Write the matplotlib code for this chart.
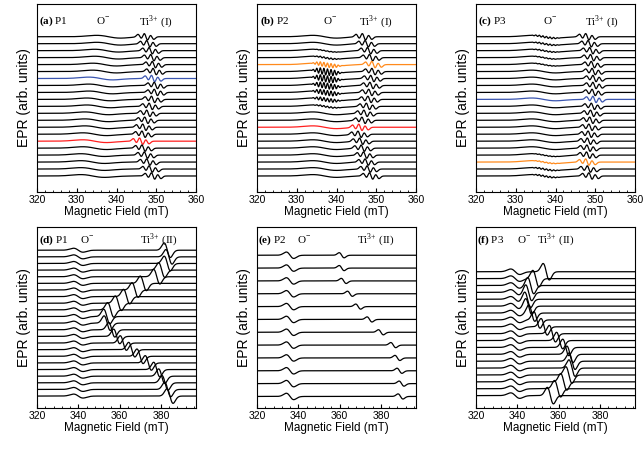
import numpy as np
import matplotlib
matplotlib.use('Agg')
import matplotlib.pyplot as plt
from matplotlib.ticker import MultipleLocator

plt.rcParams['font.family'] = ['Liberation Sans', 'DejaVu Sans']
plt.rcParams['mathtext.fontset'] = 'custom'
plt.rcParams['mathtext.rm'] = 'Liberation Serif'
plt.rcParams['mathtext.bf'] = 'Liberation Serif:bold'

# field ranges (mT)
field_top = (320, 360)
field_bot = (320, 397)

# Ti3+ (I) line centre of every spectrum, top to bottom
a_ti = [347.4, 348.0, 348.6, 349.0, 349.4, 349.6, 349.2, 349.9, 349.9, 349.2, 348.6,
        348.0, 347.5, 347.0, 346.8, 346.2, 346.8, 347.4, 348.0, 348.6, 349.2]
b_ti = [346.9, 347.6, 348.2, 348.7, 349.3, 349.3, 349.0, 348.8, 348.5, 348.3, 347.9,
        347.3, 346.8, 346.0, 345.8, 346.2, 346.6, 347.2, 347.6, 348.1, 348.7]
c_ti = [348.0, 348.6, 349.0, 349.2, 349.4, 349.6, 349.8, 349.8, 349.6, 349.8, 349.4,
        349.2, 349.0, 348.8, 348.6, 348.4, 348.3, 348.2, 348.0, 348.4, 348.8]
# O- line centre in P1 spectra (shifts slightly down the stack)
a_o = [338, 338, 337.5, 337.5, 337, 337, 336, 336, 336, 335.5, 335.5,
       335, 335, 335, 334.5, 334.5, 334.5, 334, 334, 334, 334]
# O- hyperfine wiggle strength in P2 and P3 spectra
b_wiggle = [0, 0, 0.05, 0.1, 0.3, 0.45, 0.45, 0.4, 0.35, 0.25, 0.1,
            0, 0, 0, 0, 0, 0, 0, 0, 0, 0]
c_wiggle = [0.12, 0.1, 0.08, 0.06, 0.05, 0, 0, 0, 0, 0, 0,
            0, 0, 0, 0, 0, 0, 0.05, 0.06, 0.1, 0.1]

# Ti3+ (II) line centre of every spectrum, top to bottom
d_ti = [383.1, 383.9, 383.1, 380.4, 378.0, 371.5, 367.5, 363.4, 359.4, 355.7, 353.8, 354.0,
        356.2, 358.6, 361.8, 365.9, 369.9, 373.9, 378.0, 380.4, 382.0, 383.3, 384.4]
e_ti = [361, 361, 362, 365, 369, 374.5, 380, 386, 388, 389, 390, 389.5]
f_ti = [354, 349, 346.5, 345.5, 345, 345.5, 347, 349.5, 353, 357, 360.5, 363.5,
        365.5, 366.5, 366.5, 365, 362.5, 359.5, 356]

# highlighted spectra
a_colors = {6: '#3a55b0', 15: '#ff1f1f'}
b_colors = {4: '#ff8a1c', 13: '#ff1f1f'}
c_colors = {9: '#3a55b0', 18: '#ff8a1c'}

labels = ['(a)', '(b)', '(c)', '(d)', '(e)', '(f)']
samples = ['P1', 'P2', 'P3', 'P1', 'P2', 'P3']


def deriv(x, c, w):
    u = (x - c) / w
    return -u * np.exp(0.5 - 0.5 * u * u)


def ti1(x, c):
    return (0.5 * deriv(x, c - 1.5, 0.5) + 0.8 * deriv(x, c, 0.5)
            + 0.5 * deriv(x, c + 1.5, 0.5))


fig = plt.figure(figsize=(6.44, 4.53), dpi=100)
W, H = 644.0, 453.0
lefts = [37, 257, 476]


def make_ax(col, top, bot):
    l = lefts[col]
    return fig.add_axes([l / W, (H - bot) / H, 159 / W, (bot - top) / H])


def style(ax, xr, major, minor):
    ax.set_xlim(*xr)
    ax.xaxis.set_major_locator(MultipleLocator(major))
    ax.xaxis.set_minor_locator(MultipleLocator(minor))
    ax.tick_params(axis='x', which='both', direction='in', labelsize=7.5, pad=2)
    ax.tick_params(axis='x', which='major', length=3, width=0.8)
    ax.tick_params(axis='x', which='minor', length=1.8, width=0.6)
    ax.set_yticks([])
    ax.set_xlabel('Magnetic Field (mT)', fontsize=8.5, labelpad=1)
    ax.set_ylabel('EPR (arb. units)', fontsize=10, labelpad=4)
    for s in ax.spines.values():
        s.set_linewidth(0.8)


def put_labels(ax, i, xs, y, ti_txt):
    l = lefts[i % 3]
    f = lambda px: (px - l) / 159.0
    kw = dict(transform=ax.transAxes, fontsize=8, family='Liberation Serif',
              va='center', ha='left')
    ax.text(f(xs[0]), y, r'$\mathbf{' + labels[i] + '}$ ' + samples[i], **kw)
    ax.text(f(xs[1]), y, r'O$^{-}$', **kw)
    ax.text(f(xs[2]), y, ti_txt, **kw)


def wiggle(x, amp):
    env = np.exp(-0.5 * ((x - 337.5) / 2.6) ** 4)
    return amp * np.sin(2 * np.pi * (x - 333) / 0.9) * env


# ---- top row ----
xt = np.linspace(field_top[0], field_top[1], 2500)
top_data = [(a_ti, a_colors, None, a_o), (b_ti, b_colors, b_wiggle, None),
            (c_ti, c_colors, c_wiggle, None)]
top_lab_x = [(39, 96, 139), (260, 323, 359), (478, 543, 585)]
for k, (centres, cols, wig, oc) in enumerate(top_data):
    ax = make_ax(k, 4, 192)
    n = len(centres)
    for i, c in enumerate(centres):
        o_c = oc[i] if oc is not None else 337
        y = 0.75 * ti1(xt, c) + 0.2 * deriv(xt, o_c, 3.0)
        if wig is not None and wig[i] > 0:
            y = y + wiggle(xt, wig[i])
        ax.plot(xt, y - i, color=cols.get(i, 'black'), lw=0.9)
    ax.set_ylim(-(n - 1) - 2.3, 4.7)
    style(ax, field_top, 10, 2)
    put_labels(ax, k, top_lab_x[k], 0.906, r'Ti$^{3{+}}$ (I)')

# ---- bottom row ----
xb = np.linspace(field_bot[0], field_bot[1], 2500)
bot_data = [(d_ti, 1.1, 1.5, 340, 0.3, 2.3, 3.5, 1.8),
            (e_ti, 0.2, 1.2, 336, 0.25, 1.8, 2.2, 0.9),
            (f_ti, 1.2, 1.5, 339, 0.4, 2.2, 6.5, 1.8)]
bot_lab_x = [(39, 80, 140), (258, 297, 357), (477, 517, 537)]
for k, (centres, amp, w, oc, oa, ow, top_pad, bot_pad) in enumerate(bot_data):
    ax = make_ax(k, 227, 408)
    n = len(centres)
    for i, c in enumerate(centres):
        y = amp * deriv(xb, c, w) + oa * deriv(xb, oc, ow)
        ax.plot(xb, y - i, color='black', lw=0.9)
    ax.set_ylim(-(n - 1) - bot_pad, top_pad)
    style(ax, field_bot, 20, 4)
    put_labels(ax, k + 3, bot_lab_x[k], 0.928, r'Ti$^{3{+}}$ (II)')

fig.savefig('out.png', dpi=100)
